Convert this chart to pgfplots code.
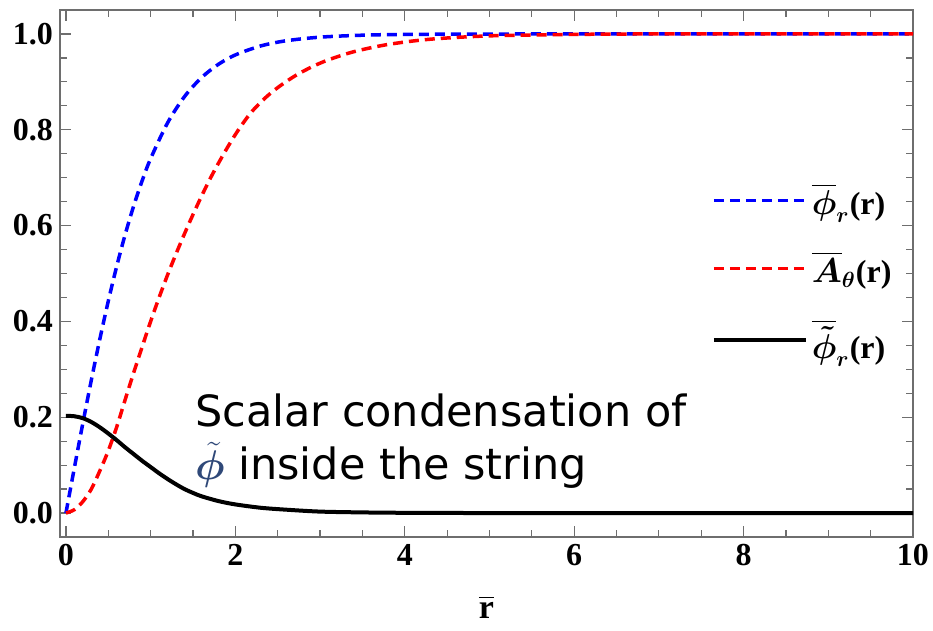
\documentclass[border=0pt]{standalone}
\usepackage{amsmath}
\usepackage{bm}
\usepackage{fontspec}
\setmainfont{Liberation Serif}
\newfontfamily\annotfont{DejaVu Sans}
\usepackage{pgfplots}
\pgfplotsset{compat=1.18}
\usetikzlibrary{calc}

\definecolor{phiblue}{RGB}{47,72,120}
\definecolor{framegray}{RGB}{110,110,110}

\begin{document}
\begin{tikzpicture}
\begin{axis}[
    scale only axis,
    width=426.5pt,
    height=263.5pt,
    xmin=-0.07, xmax=10,
    ymin=-0.05, ymax=1.05,
    axis line style={framegray, line width=0.8pt},
    tick style={framegray, line width=0.6pt},
    tick align=inside,
    major tick length=5.5pt,
    minor tick length=3.5pt,
    xtick={0,2,4,6,8,10},
    ytick={0,0.2,0.4,0.6,0.8,1},
    minor x tick num=3,
    minor y tick num=3,
    xticklabel pos=lower,
    yticklabel pos=left,
    /pgf/number format/assume math mode=true,
    ticklabel style={font=\bfseries\fontsize{16}{16}\selectfont, black},
    yticklabel style={/pgf/number format/.cd, fixed, fixed zerofill, precision=1},
    xlabel={$\overline{\textbf{r}}$},
    xlabel style={font=\fontsize{17}{17}\selectfont, yshift=-8pt},
    legend style={
        at={(axis cs:7.55,0.705)}, anchor=north west,
        draw=none, fill=none,
        font=\fontsize{16}{19}\selectfont,
        row sep=13pt,
        /tikz/every even column/.append style={column sep=5pt}
    },
    legend cell align=left,
    legend image code/.code={
        \draw[#1] (0pt,0pt) -- (46pt,0pt);
    },
    clip=false,
]
% blue: phi_r
\addplot[blue, line width=1.75pt, dash pattern=on 5pt off 3pt, smooth] coordinates {
    (0,0) (0.1,0.0947) (0.2,0.1877) (0.3,0.2775) (0.4,0.3627) (0.5,0.4423)
    (0.6,0.5154) (0.7,0.5817) (0.8,0.6411) (0.9,0.6937) (1.0,0.7398)
    (1.2,0.8144) (1.4,0.8693) (1.6,0.9087) (1.8,0.9366) (2.0,0.9562)
    (2.3,0.9750) (2.6,0.9858) (3.0,0.9933) (3.5,0.9974) (4.0,0.9990)
    (5.0,0.9998) (6.0,1.0) (8.0,1.0) (10.0,1.0)
};
\addlegendentry{$\bm{\overline{\phi}_{r}}$\textbf{(r)}}
% red: A_theta
\addplot[red, line width=1.75pt, dash pattern=on 5pt off 3pt, smooth] coordinates {
    (0,0) (0.1,0.007) (0.2,0.024) (0.3,0.050) (0.4,0.088) (0.5,0.130)
    (0.6,0.180) (0.7,0.237) (0.8,0.293) (0.9,0.347) (1.0,0.400)
    (1.1,0.450) (1.2,0.497) (1.3,0.541) (1.4,0.583) (1.5,0.623)
    (1.6,0.661) (1.7,0.697) (1.8,0.730) (1.9,0.761) (2.0,0.790)
    (2.1,0.816) (2.2,0.839) (2.35,0.866) (2.5,0.888) (2.7,0.912)
    (2.9,0.931) (3.1,0.946) (3.4,0.963) (3.8,0.978) (4.3,0.989)
    (5.0,0.996) (6.0,0.999) (7.0,1.0) (10.0,1.0)
};
\addlegendentry{$\bm{\overline{A}_{\theta}}$\textbf{(r)}}
% black: tilde phi_r
\addplot[black, line width=2pt, smooth] coordinates {
    (0,0.203) (0.1,0.202) (0.2,0.198) (0.3,0.190) (0.4,0.179)
    (0.5,0.166) (0.6,0.152) (0.7,0.137) (0.8,0.123) (0.9,0.109)
    (1.0,0.096) (1.1,0.083) (1.2,0.071) (1.3,0.060) (1.4,0.050)
    (1.5,0.042) (1.6,0.035) (1.8,0.025) (2.0,0.018) (2.3,0.011)
    (2.6,0.007) (3.0,0.003) (3.5,0.0013) (4.0,0.0005) (5.0,0.0)
    (7.0,0.0) (10.0,0.0)
};
\addlegendentry{$\bm{\overline{\tilde{\phi}}_{r}}$\textbf{(r)}}

\node[anchor=base west, inner sep=0pt, font=\annotfont\fontsize{21.5}{26}\selectfont]
    at (axis cs:1.52,0.180) {Scalar condensation of};
\node[anchor=base west, inner sep=0pt, font=\annotfont\fontsize{21.5}{26}\selectfont]
    at (axis cs:1.52,0.069) {\textcolor{phiblue}{$\bm{\tilde{\phi}}$} inside the string};
\end{axis}
\pgfresetboundingbox
\path[use as bounding box] ($(current axis.south west)+(-30pt,-47pt)$) rectangle ($(current axis.north east)+(10pt,5pt)$);
\end{tikzpicture}
\end{document}
